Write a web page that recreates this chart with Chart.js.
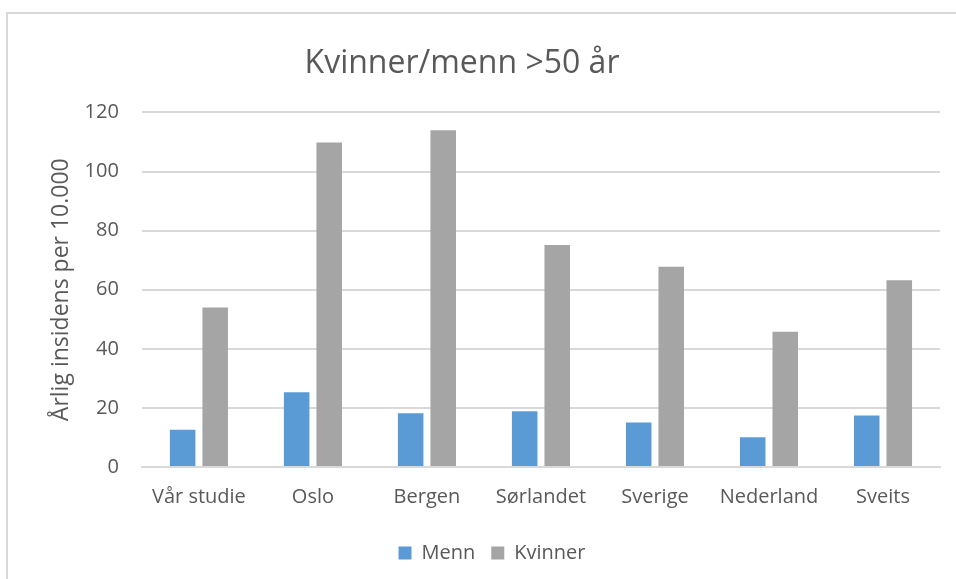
<!DOCTYPE html>
<html>
<head>
<meta charset="utf-8">
<script src="https://cdn.jsdelivr.net/npm/chart.js@4/dist/chart.umd.min.js"></script>
<style>
  html, body { margin: 0; padding: 0; background: #fff; overflow: hidden; }
  #frame { position: absolute; left: 6px; top: 12px; width: 1000px; height: 1000px; border: 2px solid #d9d9d9; }
  #wrap { position: absolute; left: 0; top: 0; width: 956px; height: 579px; }
</style>
</head>
<body>
<div id="frame"></div>
<div id="wrap"><canvas id="chart"></canvas></div>
<script>
const categories = ["Vår studie", "Oslo", "Bergen", "Sørlandet", "Sverige", "Nederland", "Sveits"];
const menn = [12.6, 25.3, 18.2, 18.9, 15.1, 10.1, 17.4];
const kvinner = [54.0, 109.8, 114.0, 75.1, 67.8, 45.8, 63.2];

const textColor = "#595959";
const fontFamily = "'Open Sans', sans-serif";
const yTickPadding = 23;

// the title sits a bit left of the legend in the original, nudge it over
const shiftTitle = {
  id: "shiftTitle",
  afterLayout(chart) {
    const t = chart.titleBlock;
    if (t) {
      t.left -= 30;
      t.right -= 30;
    }
  },
};

new Chart(document.getElementById("chart"), {
  type: "bar",
  data: {
    labels: categories,
    datasets: [
      {
        label: "Menn",
        data: menn,
        backgroundColor: "#5b9bd5",
        categoryPercentage: 0.571,
        barPercentage: 0.785,
      },
      {
        label: "Kvinner",
        data: kvinner,
        backgroundColor: "#a5a5a5",
        categoryPercentage: 0.571,
        barPercentage: 0.785,
      },
    ],
  },
  plugins: [shiftTitle],
  options: {
    responsive: true,
    maintainAspectRatio: false,
    animation: false,
    layout: {
      padding: { top: 22, left: 44, right: 16, bottom: 6 },
    },
    plugins: {
      title: {
        display: true,
        text: "Kvinner/menn >50 år",
        color: textColor,
        font: { family: fontFamily, size: 32, weight: "normal" },
        padding: { top: 23, bottom: 29 },
      },
      legend: {
        position: "bottom",
        labels: {
          color: textColor,
          font: { family: fontFamily, size: 20 },
          boxWidth: 13,
          boxHeight: 13,
          padding: 16,
        },
      },
      tooltip: { enabled: false },
    },
    scales: {
      x: {
        grid: { display: false, drawTicks: false },
        border: { display: true, color: "#d9d9d9", width: 2 },
        ticks: {
          color: textColor,
          font: { family: fontFamily, size: 20 },
          padding: 18,
          maxRotation: 0,
          minRotation: 0,
        },
        afterFit: (scale) => {
          scale.paddingLeft = 0;
          scale.paddingRight = 0;
        },
      },
      y: {
        min: 0,
        max: 120,
        ticks: {
          stepSize: 20,
          color: textColor,
          font: { family: fontFamily, size: 20 },
          padding: yTickPadding,
        },
        grid: { color: "#d9d9d9", lineWidth: 2, drawTicks: false },
        border: { display: false },
        title: {
          display: true,
          text: "Årlig insidens per 10.000",
          color: textColor,
          font: { family: fontFamily, size: 23 },
          padding: { top: 4, bottom: 9 },
        },
        // tick padding is counted twice in the axis width, take one back out
        afterFit: (scale) => {
          scale.width -= yTickPadding;
        },
      },
    },
  },
});
</script>
</body>
</html>
